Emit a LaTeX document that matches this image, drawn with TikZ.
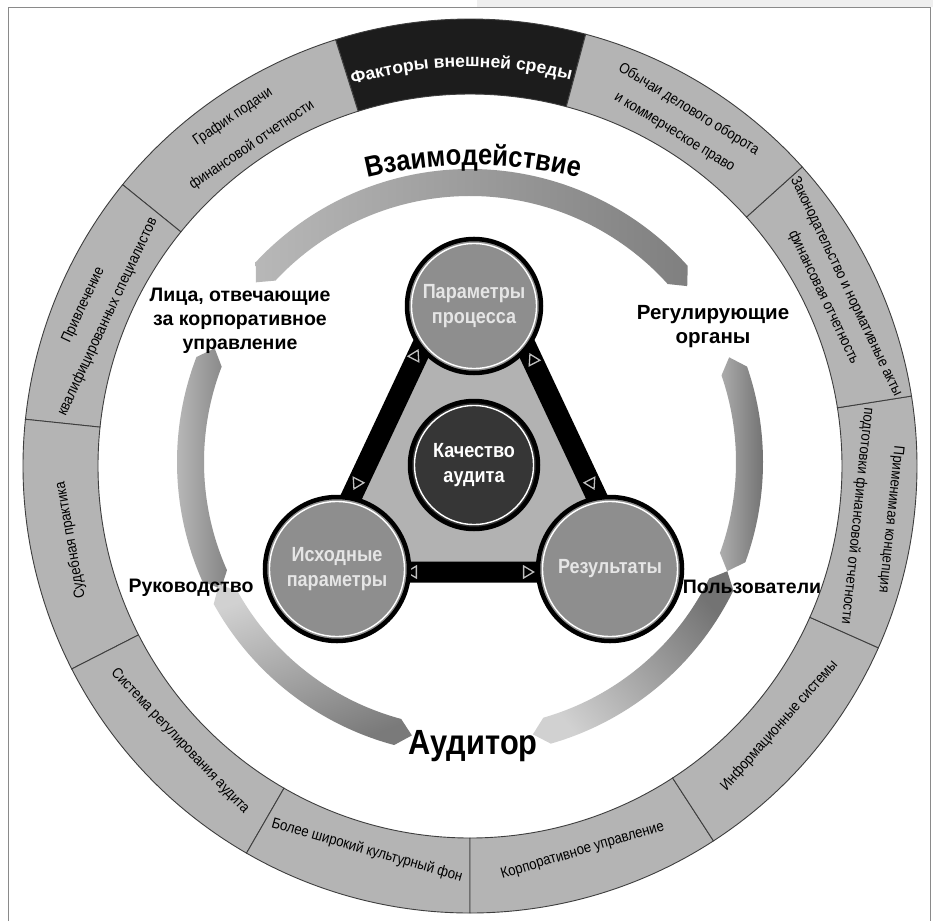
\documentclass[tikz,border=0pt]{standalone}
\usepackage{fontspec}
\setmainfont{Liberation Sans}
\newfontfamily\ringfont[FakeStretch=0.88]{Liberation Sans}
\newfontfamily\lblfont{Liberation Sans}
\usetikzlibrary{decorations.text,shapes.geometric}
\definecolor{ringgray}{HTML}{B4B4B4}
\definecolor{ringline}{HTML}{3E3E3E}
\definecolor{segblack}{HTML}{1C1C1C}
\definecolor{vgray}{HTML}{8E8E8E}
\definecolor{trigray}{HTML}{B2B2B2}
\definecolor{cdark}{HTML}{363636}
\definecolor{framegray}{HTML}{8A8A8A}
\definecolor{topstrip}{HTML}{EFEFEF}
\tikzset{
 ringtxt/.style={font=\ringfont\fontsize{15}{26}\selectfont, align=center, inner sep=0pt, text=black},
 lbl/.style={font=\lblfont\bfseries\fontsize{19.5}{24}\selectfont, align=center, inner sep=0pt},
 vcirc/.style={circle, draw=black, line width=4.5pt, fill=vgray, inner sep=0pt, text=white!90!black, font=\ringfont\bfseries\fontsize{20.5}{25}\selectfont, align=center},
 arrtri/.style={isosceles triangle, isosceles triangle apex angle=60, isosceles triangle stretches, draw=gray!50, fill=black, line width=1.3pt, minimum height=10pt, minimum width=12pt, inner sep=0pt},
 segment/.style={draw=ringline, line width=0.9pt},
}
\newcommand\bandshape[2]{(#1:293) arc[start angle=#1, end angle=#2, radius=293] -- ({#2+3}:279.5) -- (#2:266) arc[start angle=#2, end angle=#1, radius=266] -- ({#1-3}:279.5) -- cycle}
\newcommand\ringseg[2]{(#1:447) arc[start angle=#1, end angle=#2, radius=447] -- (#2:372) arc[start angle=#2, end angle=#1, radius=372] -- cycle}
\begin{document}
\begin{tikzpicture}[x=1pt,y=1pt]
\useasboundingbox (-470,-455) rectangle (463,466);
\fill[white] (-470,-455) rectangle (463,466);
\fill[topstrip] (7,459) rectangle (463,466);
\draw[framegray, line width=1pt] (-461,-455) -- (-461,458) -- (460,458) -- (460,-455);

% outer ring
\filldraw[segment, fill=segblack] \ringseg{75}{107.5};
\foreach \a/\b in {107.5/141, 141/174, 174/207, 207/240, 240/270, 270/303, 303/336, 336/369, 9/42, 42/75}{
  \filldraw[segment, fill=ringgray] \ringseg{\a}{\b};
}
\path[decorate, decoration={text along path, text align=center, text color=white,
  text={|\lblfont\bfseries\fontsize{17.5}{18}\selectfont|Факторы внешней среды}}]
  (113.25:399) arc[start angle=113.25, end angle=69.25, radius=399];
\node[ringtxt, rotate=-31.5, font=\ringfont\fontsize{15}{27}\selectfont] (s1) at (58.5:405) {Обычаи делового оборота\\и коммерческое право};
\node[ringtxt, rotate=-64.5, font=\ringfont\fontsize{15}{25}\selectfont] (s2) at (25.5:404) {Законодательство и нормативные акты\\финансовая отчетность};
\node[ringtxt, rotate=-96, font=\ringfont\fontsize{15}{34}\selectfont] (s3) at (-7.3:407) {Применимая концепция\\подготовки финансовой отчетности};
\node[ringtxt, rotate=48.5] (s4) at (-40:404) {Информационные системы};
\node[ringtxt, rotate=16.5] (s5) at (-73.7:401) {Корпоративное управление};
\node[ringtxt, rotate=-16] (s6) at (-105:398) {Более широкий культурный фон};
\node[ringtxt, rotate=-46.5] (s7) at (-136.5:400) {Система регулирования аудита};
\node[ringtxt, rotate=100] (s8) at (190.5:406) {Судебная практика};
\node[ringtxt, rotate=65, font=\ringfont\fontsize{15}{27}\selectfont] (s9) at (157.5:405) {Привлечение\\квалифицированных специалистов};
\node[ringtxt, rotate=34, font=\ringfont\fontsize{15}{34}\selectfont] (s10) at (124.2:405) {График подачи\\финансовой отчетности};

% arc bands
\begin{scope}[shift={(0,4)}]
\shade[left color=black!28, right color=black!50] \bandshape{42}{137};
\shade[left color=black!25, right color=black!48] \bandshape{159}{204};
\shade[left color=black!18, right color=black!52, shading angle=20] \bandshape{209}{255};
\shade[left color=black!18, right color=black!55, shading angle=130] \bandshape{286}{334};
\shade[left color=black!32, right color=black!58] \bandshape{340}{379};
\end{scope}
\path[decorate, decoration={text along path, text align=center,
  text={|\ringfont\bfseries\fontsize{29}{30}\selectfont|Взаимодействие}}]
  (3,-149) ++(106:450) arc[start angle=106, end angle=74, radius=450];

% labels
\node[lbl] (l1) at (-230,145) {Лица, отвечающие\\за корпоративное\\управление};
\node[lbl, font=\lblfont\bfseries\fontsize{20.5}{24}\selectfont] (l2) at (243,139) {Регулирующие\\органы};
\node[lbl] (l3) at (-279,-122) {Руководство};
\node[lbl] (l4) at (282,-121) {Пользователи};
\node[font=\ringfont\bfseries\fontsize{35}{36}\selectfont, inner sep=0pt] (l5) at (3,-280) {Аудитор};

% triangle
\coordinate (TA) at (4,230);
\coordinate (TL) at (-154,-106);
\coordinate (TR) at (162,-106);
\fill[trigray] (TA) -- (TL) -- (TR) -- cycle;
\begin{scope}
\clip (-300,-200) rectangle (300,200);
\draw[black, line width=21pt, line join=miter] (TA) -- (TL) -- (TR) -- cycle;
\end{scope}
\node[arrtri, rotate=62.6] (t1) at (-55,110) {};
\node[arrtri, rotate=242.6] (t2) at (-113,-17) {};
\node[arrtri, rotate=117.4] (t3) at (63,106) {};
\node[arrtri, rotate=297.4] (t4) at (121,-17) {};
\node[arrtri, rotate=180] (t5) at (-57,-106) {};
\node[arrtri, rotate=0] (t6) at (57,-106) {};

\coordinate (P) at (4,160);
\coordinate (I) at (-133,-103);
\coordinate (R) at (140,-103);
\node[vcirc, minimum size=134pt] (tp) at (P) {Параметры\\процесса};
\node[vcirc, minimum size=144pt] (bl) at (I) {Исходные\\параметры};
\node[vcirc, minimum size=144pt] (br) at (R) {Результаты};
\node[vcirc, fill=cdark, text=white, minimum size=128pt] (cq) at (4,1) {Качество\\аудита};
\draw[white, line width=1.4pt] (tp.center) circle (62.5);
\draw[white, line width=1.4pt] (bl.center) circle (67.5);
\draw[white, line width=1.4pt] (br.center) circle (67.5);
\draw[white, line width=1.4pt] (cq.center) circle (59.5);
\end{tikzpicture}
\end{document}
